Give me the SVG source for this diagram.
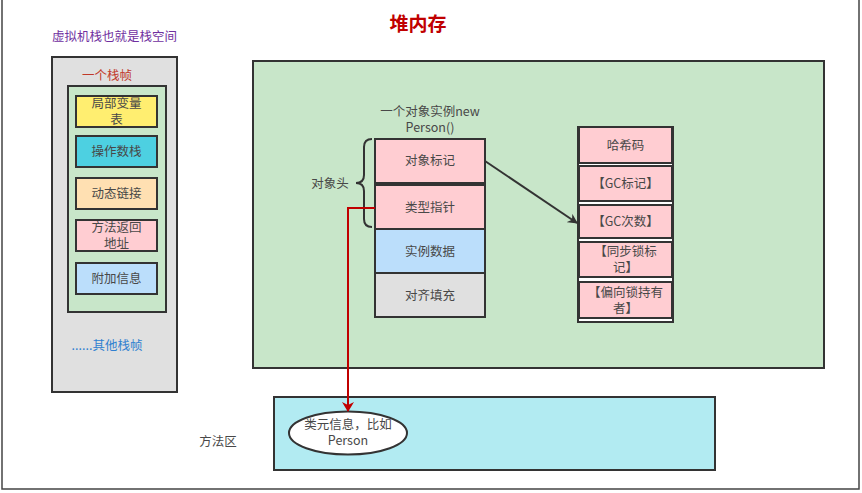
<svg xmlns="http://www.w3.org/2000/svg" width="862" height="493" viewBox="0 0 862 493">
<defs>
<style>
text{font-family:"Noto Sans CJK SC","Liberation Sans",sans-serif;font-size:12.5px;fill:#484848;text-anchor:middle}
.b{stroke:#333;stroke-width:2}
.cell{fill:#ffcdd2;stroke:#333;stroke-width:2}
</style>
<marker id="ab" markerWidth="10" markerHeight="10" refX="9" refY="5" orient="auto" markerUnits="userSpaceOnUse"><path d="M0,0 L10,5 L0,10 L3,5 Z" fill="#333"/></marker>
<marker id="ar" markerWidth="10" markerHeight="12" refX="9" refY="6" orient="auto" markerUnits="userSpaceOnUse"><path d="M0,0 L10,6 L0,12 L3,6 Z" fill="#c00000"/></marker>
</defs>
<rect width="862" height="493" fill="#fff"/>
<path d="M2,0 V489 H859 V0" fill="none" stroke="#444" stroke-width="1.5"/>
<text x="418" y="31" style="font-size:19px;font-weight:bold;fill:#c00000">堆内存</text>
<text x="52" y="41" style="text-anchor:start;fill:#7030a0;font-size:12.5px">虚拟机栈也就是栈空间</text>

<g id="stack">
<rect x="52" y="57" width="125" height="335" fill="#e0e0e0" class="b"/>
<text x="107" y="80" style="fill:#c0392b">一个栈帧</text>
<g id="frame">
<rect x="68" y="86" width="98" height="226" fill="#c8e6c9" class="b"/>
</g>
<g id="n-local"><rect x="76" y="96" width="81" height="31" fill="#ffee70" class="b"/><text x="116.5" y="108">局部变量</text><text x="116.5" y="123.5">表</text></g>
<g id="n-operand"><rect x="76" y="136" width="81" height="31" fill="#4dd0e1" class="b"/><text x="116.5" y="156">操作数栈</text></g>
<g id="n-dyn"><rect x="76" y="178" width="81" height="31" fill="#ffe0b2" class="b"/><text x="116.5" y="198">动态链接</text></g>
<g id="n-ret"><rect x="76" y="220" width="81" height="31" fill="#ffcdd2" class="b"/><text x="116.5" y="232">方法返回</text><text x="116.5" y="247.5">地址</text></g>
<g id="n-extra"><rect x="76" y="263" width="81" height="31" fill="#bbdefb" class="b"/><text x="116.5" y="283">附加信息</text></g>
<text x="107" y="350" style="fill:#2f80d0">......其他栈帧</text>
</g>

<g id="heap"><rect x="253" y="61" width="571" height="307" fill="#c8e6c9" class="b"/></g>
<text x="430" y="116">一个对象实例new</text>
<text x="430" y="132">Person()</text>

<g id="obj">
<g id="n-mark"><rect x="375" y="139" width="110" height="44" fill="#ffcdd2" class="b"/><text x="430" y="165">对象标记</text></g>
<g id="n-klass"><rect x="375" y="185" width="110" height="44" fill="#ffcdd2" class="b"/><text x="430" y="212">类型指针</text></g>
<g id="n-data"><rect x="375" y="229" width="110" height="44" fill="#bbdefb" class="b"/><text x="430" y="256">实例数据</text></g>
<g id="n-pad"><rect x="375" y="273" width="110" height="44" fill="#e0e0e0" class="b"/><text x="430" y="300">对齐填充</text></g>
</g>
<g id="brace"><path d="M372,139 Q364,139 364,147 V175 Q364,183 356,183 Q364,183 364,191 V219 Q364,227 372,227" fill="none" stroke="#333" stroke-width="2"/>
<text x="330" y="188">对象头</text></g>

<g id="markword">
<rect x="578" y="127" width="95" height="195" fill="#fff" class="b"/>
<g id="n-hash"><rect x="579" y="127" width="93" height="36" class="cell"/><text x="625.5" y="150">哈希码</text></g>
<g id="n-gcmark"><rect x="579" y="166" width="93" height="35" class="cell"/><text x="625.5" y="188">【GC标记】</text></g>
<g id="n-gccount"><rect x="579" y="205" width="93" height="33" class="cell"/><text x="625.5" y="226">【GC次数】</text></g>
<g id="n-lock"><rect x="579" y="242" width="93" height="35" class="cell"/><text x="625.5" y="256">【同步锁标</text><text x="625.5" y="271.5">记】</text></g>
<g id="n-bias"><rect x="579" y="282" width="93" height="36" class="cell"/><text x="625.5" y="297">【偏向锁持有</text><text x="625.5" y="312.5">者】</text></g>
</g>

<g id="method"><rect x="274" y="397" width="441" height="73" fill="#b2ebf2" class="b"/>
<text x="218" y="446">方法区</text></g>
<g id="n-class"><ellipse cx="348" cy="433" rx="59" ry="21.5" fill="#fff" class="b"/><text x="348" y="429">类元信息，比如</text><text x="348" y="445">Person</text></g>

<g id="connectors">
<path d="M485,161 L577,223" fill="none" stroke="#333" stroke-width="2" marker-end="url(#ab)"/>
<path d="M375,208 H348 V411" fill="none" stroke="#c00000" stroke-width="2" marker-end="url(#ar)"/>
</g>
</svg>
